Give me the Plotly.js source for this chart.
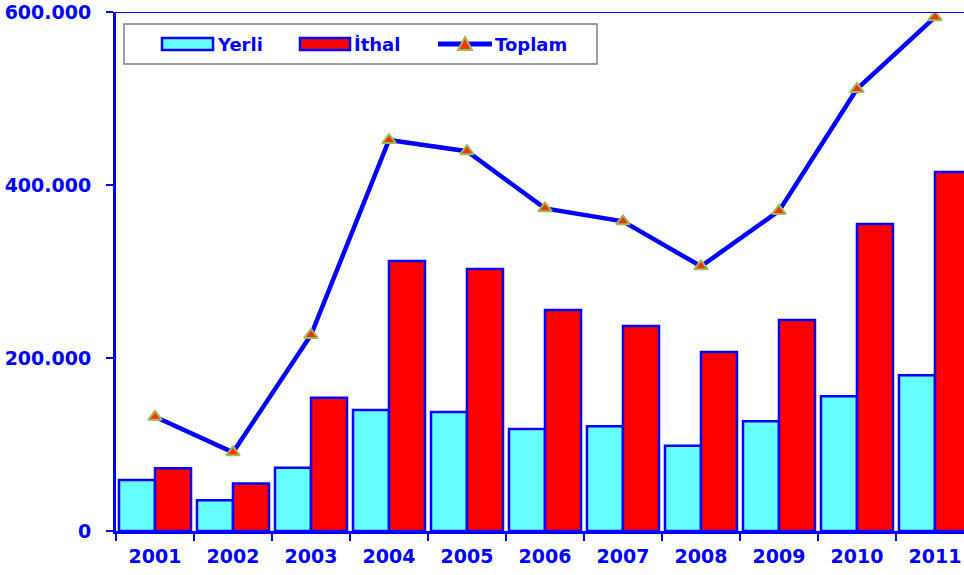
<!DOCTYPE html>
<html>
<head>
<meta charset="utf-8">
<script src="https://cdn.plot.ly/plotly-3.0.1.min.js"></script>
<style>html,body{margin:0;padding:0;background:#fff;overflow:hidden}</style>
</head>
<body>
<div id="chart" style="width:964px;height:575px"></div>
<script>
// ---- data ----
const years = ["2001","2002","2003","2004","2005","2006","2007","2008","2009","2010","2011"];
const yerli = [59000, 35500, 73000, 140000, 137500, 118000, 121000, 98600, 126800, 155700, 180000];
const ithal = [72400, 55000, 154000, 312000, 303000, 255500, 237000, 207000, 244000, 355000, 415000];
const toplam = [132000, 91000, 226600, 452000, 439000, 373000, 358000, 306000, 370000, 511000, 594000];
const seriesNames = ["Yerli", "İthal", "Toplam"];
const yTickVals = [0, 200000, 400000, 600000];

const BLUE = "#0000ff";
const FONT = "DejaVu Sans, Verdana, sans-serif";

const traces = [
  {type:"bar", name:seriesNames[0], x:years, y:yerli,
   marker:{color:"#66ffff", line:{color:BLUE, width:2.5}}},
  {type:"bar", name:seriesNames[1], x:years, y:ithal,
   marker:{color:"#ff0000", line:{color:BLUE, width:2.5}}},
  {type:"scatter", mode:"lines+markers", name:seriesNames[2], x:years, y:toplam,
   line:{color:BLUE, width:4.5},
   marker:{symbol:"triangle-up", size:12, color:"#ff3300", line:{color:"#9bbb59", width:2}}}
];

// custom legend (paper coordinates)
const px = v => (v - 116) / 848;
const py = v => (531 - v) / 519;
const legY = py(44);
const shapes = [
  {type:"line", xref:"paper", yref:"y", x0:0, x1:1, y0:600000, y1:600000, line:{color:BLUE, width:2}},
  {type:"rect", xref:"paper", yref:"paper", x0:px(124), x1:px(597), y0:py(64), y1:py(24),
   line:{color:"#808080", width:1.5}, fillcolor:"#ffffff", layer:"above"},
  {type:"rect", xref:"paper", yref:"paper", x0:px(162), x1:px(213), y0:py(50), y1:py(38),
   line:{color:BLUE, width:2.5}, fillcolor:"#66ffff", layer:"above"},
  {type:"rect", xref:"paper", yref:"paper", x0:px(300), x1:px(350), y0:py(50), y1:py(38),
   line:{color:BLUE, width:2.5}, fillcolor:"#ff0000", layer:"above"},
  {type:"line", xref:"paper", yref:"paper", x0:px(438), x1:px(492), y0:legY, y1:legY,
   line:{color:BLUE, width:5}, layer:"above"},
  {type:"path", xref:"paper", yref:"paper", layer:"above",
   path:`M ${px(458)} ${py(50)} L ${px(465)} ${py(37)} L ${px(472)} ${py(50)} Z`,
   fillcolor:"#ff3300", line:{color:"#9bbb59", width:2}}
];
const annFont = {family:FONT, size:18, color:BLUE, weight:"bold"};
const annotations = [
  {xref:"paper", yref:"paper", x:px(215), y:legY, xanchor:"left", yanchor:"middle", text:"<b>"+seriesNames[0]+"</b>", showarrow:false, font:annFont},
  {xref:"paper", yref:"paper", x:px(352), y:legY, xanchor:"left", yanchor:"middle", text:"<b>"+seriesNames[1]+"</b>", showarrow:false, font:annFont},
  {xref:"paper", yref:"paper", x:px(493), y:legY, xanchor:"left", yanchor:"middle", text:"<b>"+seriesNames[2]+"</b>", showarrow:false, font:annFont}
];

const layout = {
  width:964, height:575,
  margin:{l:116, r:0, t:12, b:44, pad:0},
  paper_bgcolor:"#ffffff", plot_bgcolor:"#ffffff",
  separators:",.",
  showlegend:false,
  barmode:"group", bargap:0.077, bargroupgap:0,
  font:{family:FONT, color:BLUE},
  xaxis:{type:"category", range:[-0.5, 10.372], showgrid:false, zeroline:false,
    showline:true, linecolor:BLUE, linewidth:3,
    ticks:"outside", tickson:"boundaries", ticklen:7, tickwidth:2.5, tickcolor:BLUE,
    ticklabelstandoff:6,
    tickfont:{family:FONT, size:19, color:BLUE, weight:"bold"}},
  yaxis:{range:[0, 600000], tickvals:yTickVals, tickformat:",d", showgrid:false, zeroline:false,
    showline:true, linecolor:BLUE, linewidth:3,
    ticks:"outside", ticklen:7, tickwidth:2.5, tickcolor:BLUE, ticklabelstandoff:11,
    tickfont:{family:FONT, size:19, color:BLUE, weight:"bold"}},
  shapes:shapes, annotations:annotations
};

Plotly.newPlot("chart", traces, layout, {displayModeBar:false, staticPlot:true});
</script>
</body>
</html>
